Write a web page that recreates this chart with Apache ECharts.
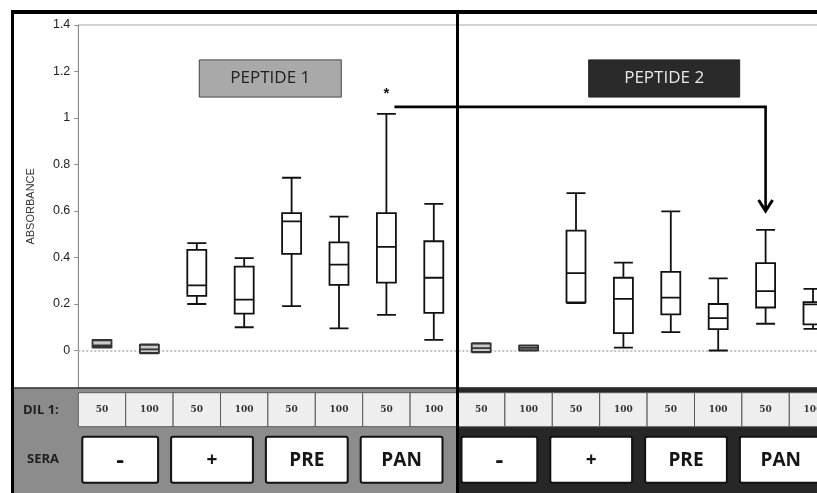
<!DOCTYPE html>
<html>
<head>
<meta charset="utf-8">
<script src="https://cdn.jsdelivr.net/npm/echarts@6/dist/echarts.min.js"></script>
<style>
  html, body { margin: 0; padding: 0; background: #fff; overflow: hidden; }
  /* the last panel runs past the right edge of the window */
  #chart { width: 840px; height: 493px; }
</style>
</head>
<body>
<div id="chart"></div>
<script>
// Panels, serum groups and dilutions along the x axis
const peptides = ['PEPTIDE 1', 'PEPTIDE 2'];
const seraGroups = ['-', '+', 'PRE', 'PAN'];
const dilutions = ['50', '100'];
const yTicks = [0, 0.2, 0.4, 0.6, 0.8, 1, 1.2, 1.4];

// Absorbance per box: [min, Q1, median, Q3, max]
const peptide1Boxes = [
  [0.012, 0.014, 0.022, 0.044, 0.046],
  [-0.012, -0.010, 0.005, 0.024, 0.026],
  [0.200, 0.235, 0.280, 0.433, 0.462],
  [0.100, 0.159, 0.219, 0.361, 0.397],
  [0.191, 0.416, 0.555, 0.591, 0.743],
  [0.095, 0.282, 0.369, 0.465, 0.576],
  [0.153, 0.292, 0.446, 0.591, 1.018],
  [0.046, 0.162, 0.313, 0.470, 0.631]
];
const peptide2Boxes = [
  [-0.008, -0.006, 0.010, 0.030, 0.032],
  [0.000, 0.002, 0.011, 0.021, 0.022],
  [0.204, 0.207, 0.333, 0.516, 0.677],
  [0.012, 0.075, 0.222, 0.313, 0.378],
  [0.079, 0.155, 0.227, 0.338, 0.598],
  [0.000, 0.092, 0.139, 0.200, 0.310],
  [0.115, 0.185, 0.255, 0.376, 0.519],
  [0.093, 0.112, 0.198, 0.208, 0.265]
];

// Significance marker: from peptide 1 / PAN 50 to peptide 2 / PAN 50
const starValue = 1.105;
const arrowFrom = { index: 6, value: 1.048 };
const arrowTo = { index: 14, value: 0.600 };

const categories = [];
const seraOfCategory = [];
peptides.forEach(function (p) {
  seraGroups.forEach(function (s) {
    dilutions.forEach(function (d) {
      categories.push(p + ' ' + s + ' ' + d);
      seraOfCategory.push(s);
    });
  });
});
const dilutionOfCategory = categories.map(function (c, i) { return dilutions[i % dilutions.length]; });

const boxData = peptide1Boxes.concat(peptide2Boxes).map(function (v, i) {
  const item = { value: v };
  if (seraOfCategory[i] === '-') {
    item.itemStyle = { color: '#c9c9c9', borderColor: '#333' };
  }
  return item;
});

const chart = echarts.init(document.getElementById('chart'), null, { renderer: 'canvas' });

chart.setOption({
  animation: false,
  backgroundColor: '#fff',
  grid: {
    left: 78.3, width: 758.4, top: 25, height: 362.7,
    outerBoundsMode: 'none',
    show: true, backgroundColor: '#fff', borderColor: '#a8a8a8', borderWidth: 1
  },
  xAxis: {
    type: 'category',
    data: categories,
    boundaryGap: true,
    axisLine: { show: false },
    axisTick: { show: false },
    axisLabel: { show: false },
    splitLine: { show: false }
  },
  yAxis: {
    type: 'value',
    min: -0.16,
    max: 1.4,
    name: 'ABSORBANCE',
    nameLocation: 'middle',
    nameGap: 42,
    nameTextStyle: { fontFamily: 'Liberation Sans', fontSize: 11, color: '#333' },
    axisLine: { show: true, lineStyle: { color: '#8a8a8a', width: 1 } },
    axisTick: { show: true, length: 4, customValues: yTicks, lineStyle: { color: '#8a8a8a' } },
    axisLabel: {
      customValues: yTicks,
      margin: 8,
      fontFamily: 'Liberation Sans',
      fontSize: 12.5,
      color: '#222'
    },
    splitLine: { show: false }
  },
  series: [{
    type: 'boxplot',
    data: boxData,
    boxWidth: [19, 19],
    itemStyle: { color: '#fff', borderColor: '#111', borderWidth: 1.8 },
    z: 5,
    markLine: {
      silent: true,
      symbol: 'none',
      label: { show: false },
      lineStyle: { type: 'dotted', color: '#c4c4c4', width: 2 },
      data: [{ yAxis: 0 }]
    }
  }]
});

// Annotation layer positioned from the chart's own axes
function pt(i, v) { return chart.convertToPixel({ gridIndex: 0 }, [i, v]); }
const c0 = pt(0, 0)[0];
const step = pt(1, 0)[0] - c0;
function cx(i) { return c0 + i * step; }
function bound(i) { return cx(i) - step / 2; }
function vy(v) { return pt(0, v)[1]; }

const W = chart.getWidth(), H = chart.getHeight();
const plotBottom = vy(-0.16);
const divider = bound(8);
const g = [];

// panel bands under the plot
g.push({ type: 'rect', z: 1, shape: { x: 14, y: plotBottom, width: divider - 14, height: H - plotBottom }, style: { fill: '#8c8c8c' } });
g.push({ type: 'rect', z: 1, shape: { x: divider, y: plotBottom, width: W - divider, height: H - plotBottom }, style: { fill: '#272727' } });
g.push({ type: 'rect', z: 2, shape: { x: 14, y: plotBottom - 0.5, width: W - 14, height: 1.5 }, style: { fill: '#333' } });

// dilution row
const rowTop = plotBottom + 5, rowH = 34;
categories.forEach(function (c, i) {
  g.push({ type: 'rect', z: 3, shape: { x: bound(i), y: rowTop, width: step, height: rowH },
    style: { fill: '#eeeeee', stroke: '#5a5a5a', lineWidth: 1 } });
  g.push({ type: 'text', z: 4, style: {
    text: dilutionOfCategory[i], x: cx(i), y: rowTop + rowH / 2,
    textAlign: 'center', textVerticalAlign: 'middle', verticalAlign: 'middle',
    font: 'bold 9px "DejaVu Serif"', fill: '#333' } });
});
g.push({ type: 'text', z: 4, style: { text: 'DIL 1:', x: 23, y: rowTop + rowH / 2 + 1,
  textAlign: 'left', textVerticalAlign: 'middle', verticalAlign: 'middle',
  font: 'bold 13px "Open Sans"', fill: '#1e1e1e' } });

// serum row: one box per serum group, spanning its two dilutions
const seraTop = rowTop + rowH + 10, seraH = 46;
for (let k = 0; k < categories.length / 2; k++) {
  const firstInPanel = k % seraGroups.length === 0;
  const x0 = firstInPanel ? bound(2 * k) + 4 : bound(2 * k) - 2;
  const x1 = bound(2 * k + 2) - 15;
  const label = seraOfCategory[2 * k];
  g.push({ type: 'rect', z: 3, shape: { x: x0, y: seraTop, width: x1 - x0, height: seraH, r: 2 },
    style: { fill: '#fff', stroke: '#111', lineWidth: 2 } });
  g.push({ type: 'text', z: 4, style: {
    text: label, x: (x0 + x1) / 2, y: seraTop + seraH / 2 + 1,
    textAlign: 'center', textVerticalAlign: 'middle', verticalAlign: 'middle',
    font: (label === '-' ? 'bold 24px' : 'bold 19px') + ' "Open Sans"', fill: '#151515' } });
}
g.push({ type: 'text', z: 4, style: { text: 'SERA', x: 27, y: seraTop + seraH / 2,
  textAlign: 'left', textVerticalAlign: 'middle', verticalAlign: 'middle',
  font: 'bold 13px "Open Sans"', fill: '#1e1e1e' } });

// panel titles
const titleTop = vy(1.25), titleBot = vy(1.09);
const titles = [
  { text: peptides[0], center: cx(3.55), width: 142, fill: '#a9a9a9', stroke: '#444', color: '#222' },
  { text: peptides[1], center: cx(11.86), width: 151, fill: '#2a2a2a', stroke: '#222', color: '#e8e8e8' }
];
titles.forEach(function (t) {
  g.push({ type: 'rect', z: 6, shape: { x: t.center - t.width / 2, y: titleTop, width: t.width, height: titleBot - titleTop },
    style: { fill: t.fill, stroke: t.stroke, lineWidth: 1 } });
  g.push({ type: 'text', z: 7, style: { text: t.text, x: t.center, y: (titleTop + titleBot) / 2,
    textAlign: 'center', textVerticalAlign: 'middle', verticalAlign: 'middle',
    font: '17px "Open Sans"', fill: t.color } });
});

// significance star and arrow
g.push({ type: 'text', z: 8, style: { text: '*', x: cx(arrowFrom.index), y: vy(starValue),
  textAlign: 'center', textVerticalAlign: 'middle', verticalAlign: 'middle',
  font: 'bold 15px "Liberation Sans"', fill: '#111' } });
const ax0 = cx(arrowFrom.index) + 8, ay = vy(arrowFrom.value);
const ax1 = cx(arrowTo.index), ay1 = vy(arrowTo.value);
g.push({ type: 'polyline', z: 8, shape: { points: [[ax0, ay], [ax1, ay], [ax1, ay1 - 2]] },
  style: { stroke: '#000', lineWidth: 2.6, fill: null } });
g.push({ type: 'polyline', z: 8, shape: { points: [[ax1 - 7, ay1 - 11], [ax1, ay1], [ax1 + 7, ay1 - 11]] },
  style: { stroke: '#000', lineWidth: 3, fill: null } });

// outer frame and panel divider
g.push({ type: 'rect', z: 20, shape: { x: 11, y: 10, width: W - 11, height: 4 }, style: { fill: '#000' } });
g.push({ type: 'rect', z: 20, shape: { x: 11, y: 10, width: 3, height: H - 10 }, style: { fill: '#000' } });
g.push({ type: 'rect', z: 20, shape: { x: divider - 1.5, y: 10, width: 3, height: H - 10 }, style: { fill: '#000' } });

chart.setOption({ graphic: { elements: g } });
</script>
</body>
</html>
